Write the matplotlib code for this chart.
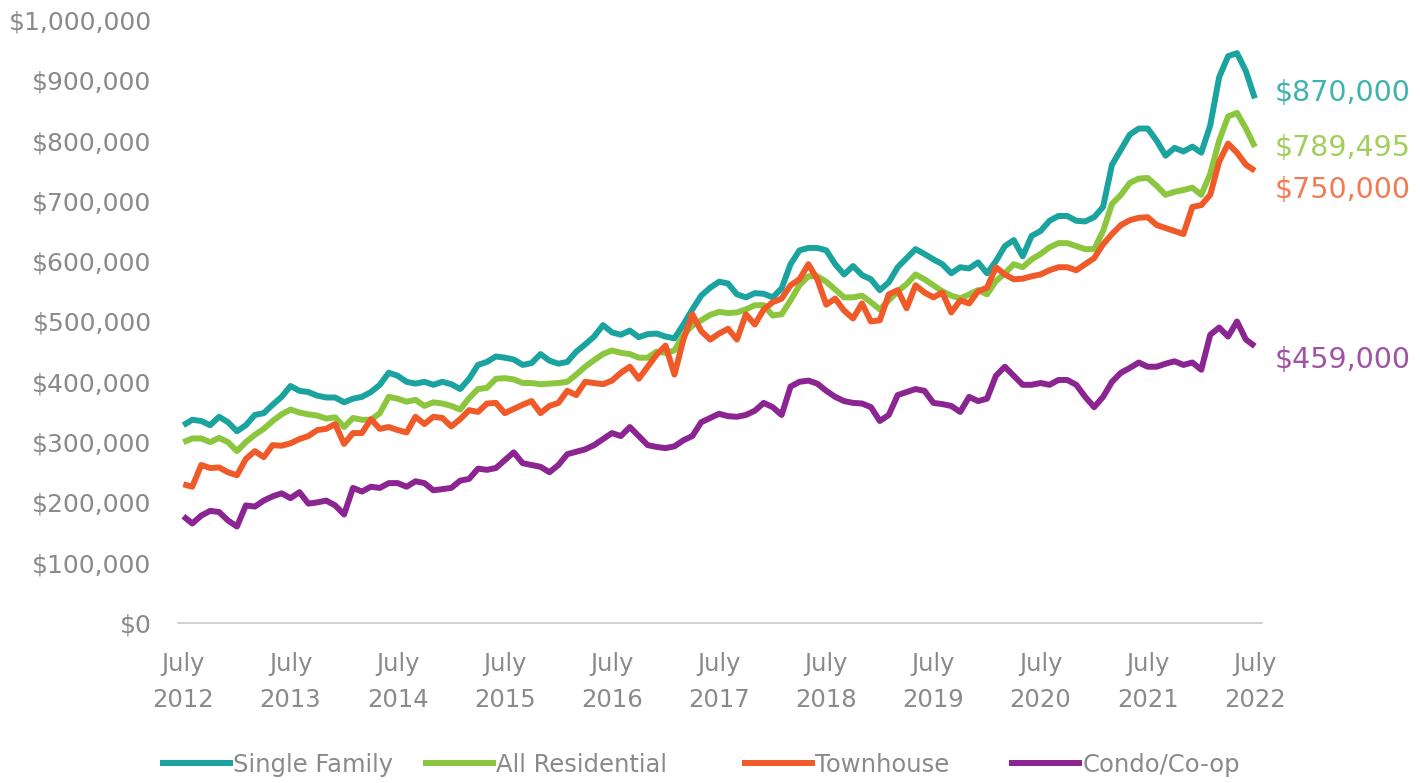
import numpy as np
import matplotlib
matplotlib.use("Agg")
import matplotlib.pyplot as plt
from matplotlib.lines import Line2D

# monthly median sale price, July 2012 .. July 2022 (thousands of $)
years = list(range(2012, 2023))
single_family = [
    328, 337, 335, 328, 342, 333, 318, 328, 345, 348, 362, 375, 393, 385, 383, 377, 374, 374, 366, 372, 375, 383, 395, 415, 410,
    400, 397, 400, 395, 400, 396, 388, 405, 428, 433, 442, 440, 437, 428, 431, 446, 435, 430, 433, 450, 462, 475, 494, 482, 478,
    485, 474, 479, 480, 475, 472, 495, 520, 543, 556, 566, 563, 545, 540, 547, 546, 540, 555, 595, 618, 622, 622, 618, 595, 578,
    592, 577, 570, 552, 565, 590, 605, 620, 612, 603, 595, 580, 590, 588, 598, 580, 600, 625, 635, 608, 642, 650, 667, 675,
    675, 667, 666, 673, 690, 760, 785, 810, 820, 820, 800, 775, 788, 782, 790, 780, 825, 905, 940, 945, 915, 870]
all_residential = [
    300, 306, 306, 300, 307, 300, 285, 300, 312, 322, 335, 346, 354, 349, 346, 344, 339, 341, 325, 340, 337, 337, 348, 375, 372,
    367, 370, 360, 366, 364, 360, 354, 373, 388, 390, 405, 406, 404, 398, 398, 396, 397, 398, 400, 412, 425, 436, 446, 452, 448,
    446, 440, 440, 450, 448, 452, 478, 493, 502, 511, 516, 514, 515, 520, 527, 527, 510, 512, 535, 560, 575, 575, 566, 553, 540,
    540, 543, 532, 520, 535, 550, 562, 578, 570, 560, 550, 543, 538, 545, 552, 545, 567, 580, 595, 590, 603, 612, 623, 630,
    630, 625, 620, 620, 650, 695, 710, 730, 737, 738, 725, 710, 715, 718, 722, 710, 745, 800, 840, 846, 820, 789.495]
townhouse = [
    230, 226, 262, 257, 258, 250, 245, 272, 285, 275, 295, 294, 298, 305, 310, 320, 322, 330, 297, 315, 315, 338, 322, 325, 320,
    316, 342, 330, 342, 340, 326, 338, 353, 350, 364, 365, 348, 355, 362, 368, 348, 360, 365, 385, 378, 400, 398, 396, 402, 415,
    425, 405, 425, 445, 460, 412, 470, 512, 484, 470, 480, 488, 470, 512, 495, 520, 532, 538, 560, 570, 595, 570, 528, 538, 518,
    505, 530, 500, 502, 545, 552, 522, 560, 548, 540, 548, 515, 535, 530, 550, 556, 590, 578, 570, 571, 575, 578, 585, 590,
    590, 585, 595, 605, 628, 645, 660, 668, 672, 673, 660, 655, 650, 645, 690, 693, 710, 765, 795, 780, 760, 750]
condo = [
    177, 165, 178, 186, 184, 170, 160, 195, 193, 203, 210, 215, 207, 217, 198, 200, 203, 195, 180, 224, 218, 226, 224, 232, 232,
    226, 235, 232, 220, 222, 224, 236, 239, 256, 254, 257, 270, 283, 265, 262, 259, 250, 262, 280, 284, 288, 295, 305, 315, 310,
    325, 310, 295, 292, 290, 293, 303, 310, 333, 340, 347, 343, 342, 345, 352, 365, 358, 345, 392, 400, 402, 397, 385, 375, 368,
    365, 364, 358, 335, 345, 378, 383, 388, 385, 365, 363, 360, 350, 375, 368, 372, 410, 425, 410, 395, 395, 398, 395, 403,
    403, 395, 375, 358, 375, 400, 415, 423, 432, 425, 425, 430, 434, 428, 432, 420, 478, 490, 475, 500, 470, 459]

names = ["Single Family", "All Residential", "Townhouse", "Condo/Co-op"]
end_labels = ["$870,000", "$789,495", "$750,000", "$459,000"]
colors = ["#1ba39f", "#8cc63f", "#f05a28", "#8b2591"]
label_colors = ["#40b3af", "#a0cf5c", "#f37b52", "#a053a5"]
label_offsets = [(14, 4), (14, -1), (14, -14), (14, -10)]  # points

grey = "#8a8a8a"
plt.rcParams["font.family"] = "DejaVu Sans"

fig = plt.figure(figsize=(14.2, 7.83), dpi=100)
ax = fig.add_axes([178 / 1420, 160 / 783, (1262 - 178) / 1420, 603 / 783])

series = [single_family, all_residential, townhouse, condo]
x = np.arange(len(condo))
for vals, c in zip(series, colors):
    ax.plot(x, np.array(vals) * 1000, color=c, lw=4.3, solid_joinstyle="round", solid_capstyle="butt")

for vals, lab, c, off in zip(series, end_labels, label_colors, label_offsets):
    ax.annotate(lab, xy=(x[-1], vals[-1] * 1000), xytext=off, textcoords="offset points",
                color=c, fontsize=20.5, va="center", ha="left", annotation_clip=False)

ax.set_xlim(-0.6, 120.8)
ax.set_ylim(0, 1_000_000)
ax.set_yticks(np.arange(0, 1_000_001, 100_000))
ax.set_yticklabels(["${:,.0f}".format(v) for v in np.arange(0, 1_000_001, 100_000)])
ax.set_xticks(np.arange(0, 121, 12))
ax.set_xticklabels(["July\n{}".format(y) for y in years], linespacing=1.6)

ax.tick_params(axis="y", length=0, pad=19, labelsize=18, labelcolor=grey)
ax.tick_params(axis="x", length=0, pad=21, labelsize=17.5, labelcolor=grey)
for s in ["left", "right", "top"]:
    ax.spines[s].set_visible(False)
ax.spines["bottom"].set_color("#c8c8c8")
ax.spines["bottom"].set_linewidth(1.2)

# legend entries, spaced like the original
leg_x = [163 / 1420, 426 / 1420, 745 / 1420, 1012 / 1420]
for name, c, lx in zip(names, colors, leg_x):
    h = Line2D([], [], color=c, lw=4.3)
    lg = fig.legend([h], [name], loc="center left", bbox_to_anchor=(lx, 18 / 783),
                    frameon=False, fontsize=17.5, handlelength=2.75, handletextpad=0.15,
                    borderpad=0, borderaxespad=0)
    for t in lg.get_texts():
        t.set_color(grey)

fig.savefig("out.png", dpi=100)
